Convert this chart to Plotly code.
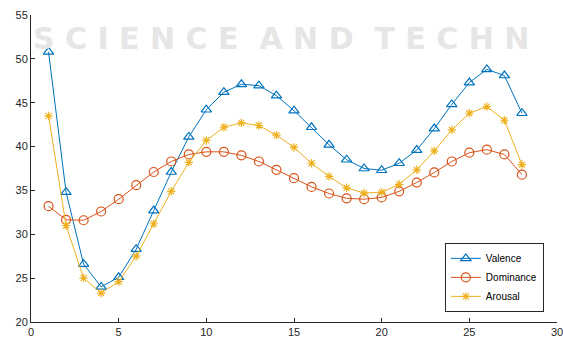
import plotly.graph_objects as go

x_vals = list(range(1, 29))
valence = [50.8, 34.8, 26.6, 24.0, 25.1, 28.3, 32.7, 37.1, 41.1, 44.2, 46.2, 47.1, 46.95, 45.8,
           44.1, 42.2, 40.2, 38.5, 37.5, 37.3, 38.1, 39.6, 42.05, 44.8, 47.3, 48.8, 48.1, 43.8]
dominance = [33.2, 31.65, 31.6, 32.6, 34.0, 35.6, 37.1, 38.3, 39.1, 39.4, 39.4, 39.0, 38.3, 37.35,
             36.4, 35.4, 34.65, 34.1, 34.0, 34.2, 34.9, 35.9, 37.05, 38.3, 39.3, 39.65, 39.1, 36.8]
arousal = [43.5, 31.0, 25.0, 23.3, 24.6, 27.5, 31.2, 34.9, 38.2, 40.7, 42.2, 42.7, 42.4, 41.3,
           39.9, 38.1, 36.6, 35.3, 34.7, 34.8, 35.7, 37.35, 39.5, 41.9, 43.8, 44.55, 43.0, 37.95]
x_ticks = [0, 5, 10, 15, 20, 25, 30]
y_ticks = [20, 25, 30, 35, 40, 45, 50, 55]

FONT = "Liberation Sans, Arial, sans-serif"
AX = "#262626"

fig = go.Figure()
fig.add_trace(go.Scatter(x=x_vals, y=valence, name="Valence", mode="lines+markers",
                         line=dict(color="#0072BD", width=1),
                         marker=dict(symbol="triangle-up-open", size=9, color="#0072BD",
                                     line=dict(width=1.2))))
fig.add_trace(go.Scatter(x=x_vals, y=dominance, name="Dominance", mode="lines+markers",
                         line=dict(color="#D95319", width=1),
                         marker=dict(symbol="circle-open", size=9, color="#D95319",
                                     line=dict(width=1.2))))
fig.add_trace(go.Scatter(x=x_vals, y=arousal, name="Arousal", mode="lines+markers",
                         line=dict(color="#EDB120", width=1),
                         marker=dict(symbol="asterisk-open", size=7, color="#EDB120",
                                     line=dict(width=1.2, color="#EDB120"))))

# faint watermark
fig.add_annotation(text="S C I E N C E&nbsp;&nbsp;A N D&nbsp;&nbsp;T E C H N",
                   xref="paper", yref="paper", x=0.0, y=0.925, xanchor="left", yanchor="middle",
                   showarrow=False, font=dict(family="DejaVu Sans", size=30, color="#e6e6e6",
                                               weight="bold"))

fig.update_layout(
    width=563, height=341,
    margin=dict(l=31, r=6, t=15, b=19, autoexpand=False),
    paper_bgcolor="white", plot_bgcolor="white",
    font=dict(family=FONT, size=11, color=AX),
    showlegend=True,
    legend=dict(x=0.975, y=0.033, xanchor="right", yanchor="bottom",
                bordercolor="#262626", borderwidth=1, bgcolor="white",
                font=dict(family=FONT, size=10, color="#000000"),
                tracegroupgap=0, itemwidth=30),
    xaxis=dict(range=[0, 30], tickvals=x_ticks, ticks="inside", ticklen=4, tickcolor=AX,
               showline=True, linecolor=AX, linewidth=1, showgrid=False, zeroline=False,
               mirror=False, automargin=False, ticklabeloverflow="allow",
               tickfont=dict(size=11, color=AX)),
    yaxis=dict(range=[20, 55], tickvals=y_ticks, ticks="inside", ticklen=4, tickcolor=AX,
               showline=True, linecolor=AX, linewidth=1, showgrid=False, zeroline=False,
               mirror=False, automargin=False, ticklabeloverflow="allow",
               tickfont=dict(size=11, color=AX)),
)

fig.write_html("out.html", config={"displayModeBar": False},
               post_script="document.body.style.margin='0';")
